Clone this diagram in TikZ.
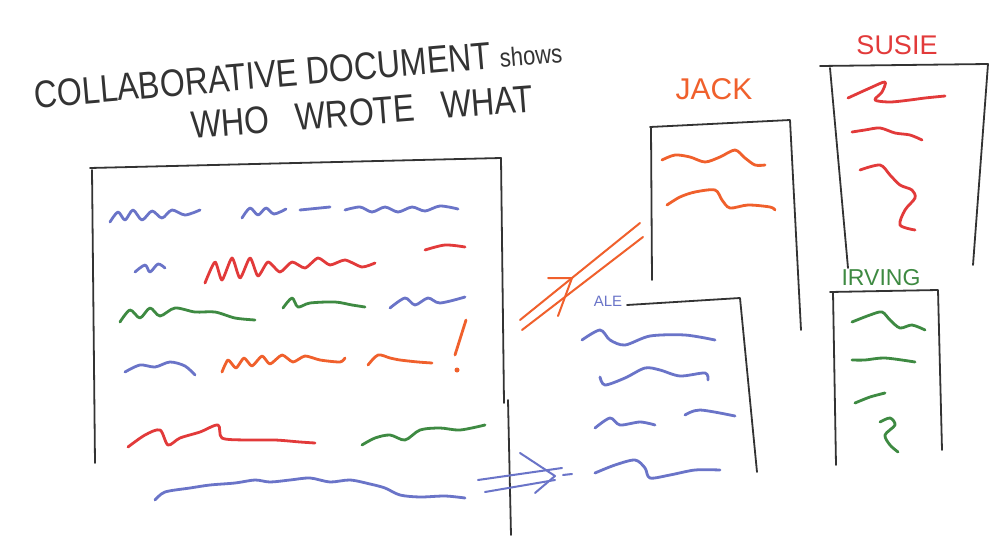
\documentclass[tikz,border=0pt]{standalone}
\usepackage{fontspec}
\setmainfont{Liberation Sans}
\usetikzlibrary{positioning}
\definecolor{penblue}{HTML}{6A74C8}
\definecolor{penred}{HTML}{E23A3A}
\definecolor{penorange}{HTML}{F0602C}
\definecolor{pengreen}{HTML}{3E8A42}
\definecolor{penblack}{HTML}{333333}

\begin{document}
\begin{tikzpicture}[x=1pt,y=-1pt, line cap=round, line join=round,
  bx/.style={draw=penblack,line width=1.8pt},
  sq/.style={line width=2.8pt},
  ttl/.style={text=penblack,font=\fontsize{32}{32}\selectfont,rotate=5,inner sep=0pt},
  who/.style={font=\fontsize{30}{30}\selectfont,inner sep=0pt}]
\useasboundingbox (0,0) rectangle (1002,541);
\fill[white] (0,0) rectangle (1002,541);

% title
\node[ttl] (title) at (298,72) {\scalebox{1}[1.2]{COLLABORATIVE DOCUMENT {\fontsize{22}{22}\selectfont shows}}};
\node[ttl,rotate=-0.5] (title2) at (362,112) {\scalebox{1}[1.2]{WHO \ \ WROTE \ \ WHAT}};

% the shared document
\draw[bx] (92,170) -- (95,463);
\draw[bx] (90,168) -- (501,158) -- (504,403);
\draw[bx] (508,400) -- (511,535);

\draw[sq,penblue] plot[smooth] coordinates {(110,222)(118,212)(125,220)(133,210)(142,220)(152,211)(162,218)(172,210)(185,215)(200,210)};
\draw[sq,penblue] plot[smooth] coordinates {(242,218)(250,208)(258,215)(266,208)(274,214)(286,209)};
\draw[sq,penblue] (300,210) -- (330,207);
\draw[sq,penblue] plot[smooth] coordinates {(345,210)(360,207)(372,212)(385,207)(398,212)(412,207)(425,211)(440,206)(458,209)};

\draw[sq,penblue] plot[smooth] coordinates {(135,272)(145,265)(150,272)(158,264)(165,268)};
\draw[sq,penred] plot[smooth,tension=0.4] coordinates {(205,283)(215,262)(222,280)(232,258)(240,278)(250,258)(258,276)(268,262)(280,272)(292,262)(305,268)(318,258)(330,265)(345,260)(362,267)(375,263)};
\draw[sq,penred] plot[smooth] coordinates {(425,250)(445,245)(465,247)};

\draw[sq,pengreen] plot[smooth] coordinates {(120,322)(130,310)(140,318)(150,308)(160,316)(175,308)(195,312)(215,312)(235,318)(255,320)};
\draw[sq,pengreen] plot[smooth] coordinates {(283,308)(292,298)(298,307)(310,303)(335,302)(352,305)(365,307)};
\draw[sq,penblue] plot[smooth] coordinates {(390,308)(405,298)(415,305)(428,298)(440,303)(465,297)};

\draw[sq,penblue] plot[smooth] coordinates {(125,372)(140,365)(155,367)(170,362)(185,366)(195,375)};
\draw[sq,penorange] plot[smooth,tension=0.4] coordinates {(222,372)(228,360)(236,368)(244,358)(252,366)(262,356)(270,364)(282,355)(293,362)(305,356)(320,360)(340,362)(345,358)};
\draw[sq,penorange] plot[smooth] coordinates {(368,365)(378,355)(390,358)(400,360)(418,362)(432,363)};
\draw[sq,penorange] (466,320) -- (455,355);
\fill[penorange] (457,370) circle (2.5);

\draw[sq,penred] plot[smooth,tension=0.5] coordinates {(128,447)(145,435)(160,430)(168,445)(180,438)(200,432)(218,425)(222,438)(245,440)(275,440)(300,442)(315,443)};
\draw[sq,pengreen] plot[smooth] coordinates {(362,445)(375,438)(390,435)(405,440)(420,430)(440,428)(460,430)(485,425)};

\draw[sq,penblue] plot[smooth] coordinates {(155,500)(165,492)(190,488)(210,485)(235,483)(255,480)(270,482)(290,480)(310,478)(330,482)(350,480)(370,484)(385,488)(400,495)(420,497)(445,496)(465,498)};

% jack
\node[who,text=penorange] (jack) at (714,89) {JACK};
\draw[bx] (651,128) -- (652,280);
\draw[bx] (650,127) -- (790,120) -- (801,330);
\draw[sq,penorange] plot[smooth] coordinates {(662,160)(675,155)(690,157)(705,162)(720,157)(735,150)(745,158)(755,165)(765,165)};
\draw[sq,penorange] plot[smooth] coordinates {(667,205)(680,197)(695,192)(715,190)(722,200)(730,208)(748,205)(770,207)(775,210)};

% susie
\node[who,text=penred,font=\fontsize{27}{27}\selectfont] (susie) at (897,45) {SUSIE};
\draw[bx] (820,66) -- (988,64) -- (973,265);
\draw[bx] (830,68) -- (848,268);
\draw[sq,penred] plot[smooth] coordinates {(848,98)(870,88)(885,82)(882,92)(875,100)(890,102)(910,100)(925,98)(945,96)};
\draw[sq,penred] plot[smooth] coordinates {(852,132)(865,130)(880,128)(895,133)(910,135)(922,140)};
\draw[sq,penred] plot[smooth] coordinates {(860,170)(880,165)(890,175)(900,185)(912,190)(915,198)(905,210)(900,225)(915,230)};

% irving
\node[who,text=pengreen,font=\fontsize{23}{23}\selectfont] (irving) at (881,278) {IRVING};
\draw[bx] (830,292) -- (938,290) -- (942,450);
\draw[bx] (833,292) -- (836,465);
\draw[sq,pengreen] plot[smooth] coordinates {(852,322)(870,315)(882,312)(890,320)(900,328)(912,325)(925,330)};
\draw[sq,pengreen] plot[smooth] coordinates {(852,360)(865,360)(885,358)(915,362)};
\draw[sq,pengreen] plot[smooth] coordinates {(855,403)(870,397)(885,393)};
\draw[sq,pengreen] plot[smooth] coordinates {(880,422)(890,418)(895,425)(885,435)(890,445)(898,452)};

% ale
\node[who,text=penblue,font=\fontsize{15}{15}\selectfont] (ale) at (608,301) {ALE};
\draw[bx] (627,305) -- (740,298) -- (757,472);
\draw[sq,penblue] plot[smooth] coordinates {(582,340)(600,330)(610,340)(625,345)(650,336)(685,335)(715,340)};
\draw[sq,penblue] plot[smooth] coordinates {(600,377)(605,385)(625,378)(645,368)(660,370)(680,376)(705,373)(708,380)};
\draw[sq,penblue] plot[smooth] coordinates {(595,428)(610,418)(620,425)(640,422)(655,425)};
\draw[sq,penblue] plot[smooth] coordinates {(685,415)(700,410)(735,416)};
\draw[sq,penblue] plot[smooth] coordinates {(595,473)(615,465)(635,460)(645,468)(650,478)(670,475)(695,470)(720,470)};

% arrows out of the document
\draw[sq,penorange,line width=2pt] (520,320) -- (640,223);
\draw[sq,penorange,line width=2pt] (522,330) -- (643,237);
\draw[sq,penorange,line width=2pt] (548,278) -- (572,278) -- (558,316);

\draw[sq,penblue,line width=2pt] (478,480) -- (562,468);
\draw[sq,penblue,line width=2pt] (485,492) -- (555,480);
\draw[sq,penblue,line width=2pt] (520,453) -- (555,476) -- (535,493);
\draw[sq,penblue,line width=2pt] (563,475) -- (572,474);
\end{tikzpicture}
\end{document}
